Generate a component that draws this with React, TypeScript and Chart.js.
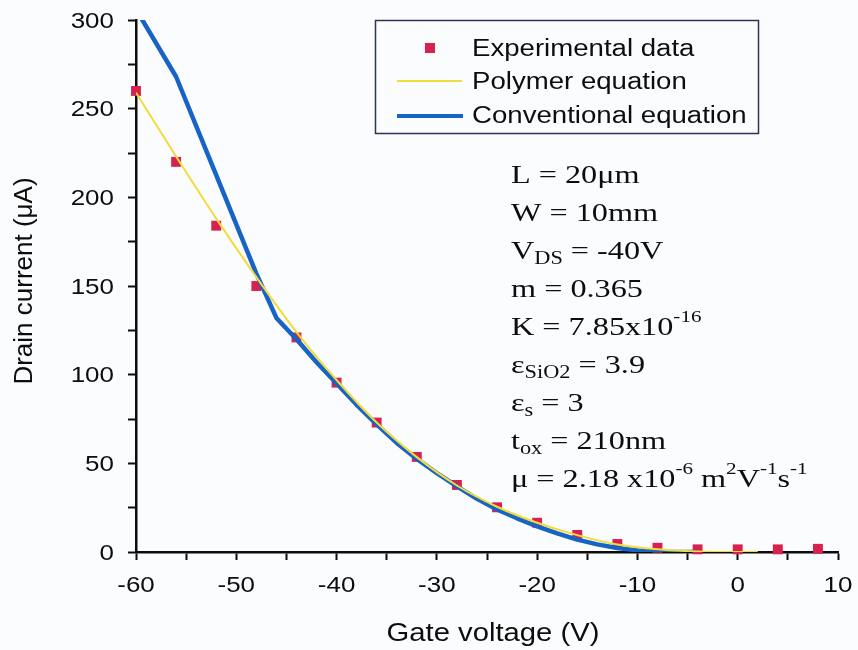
import React, { useEffect, useRef } from "react";
import { Chart, registerables } from "chart.js";

Chart.register(...registerables);

// ---------- data ----------
const expVoltage = [-60, -56, -52, -48, -44, -40, -36, -32, -28, -24, -20, -16, -12, -8, -4, 0, 4, 8];
const expCurrent = [260, 220, 184, 150, 121, 95.5, 73, 53.6, 37.8, 25.2, 16.5, 9.6, 4.5, 2.4, 1.5, 1.5, 1.5, 1.8];

const polyVoltage = [-60, -56, -52, -48, -44, -40, -36, -32, -28, -24, -20, -16, -12, -8, -4, 0, 2];
const polyCurrent = [259, 223, 188, 155, 124, 97, 73, 53.5, 37.5, 25.5, 16.5, 9.5, 4.2, 1.5, 0.3, 0, 0];

const convVoltage = [-60, -56, -52, -48, -46, -44, -42, -40, -38, -36, -34, -32, -30, -28, -26, -24, -22, -20, -18, -16, -14, -12, -10, -8, -6, -4];
const convCurrent = [306, 268, 212.5, 157, 132, 120, 107, 95, 83, 72, 61.5, 52.5, 44.5, 37, 30, 24, 19, 14.5, 10.5, 7, 4.3, 2.3, 0.9, 0.2, 0, 0];

const xTickLabels = [-60, -50, -40, -30, -20, -10, 0, 10];
const yTickLabels = [0, 50, 100, 150, 200, 250, 300];

const legendLabels = ["Experimental data", "Polymer equation", "Conventional equation"];
const xAxisTitle = "Gate voltage (V)";
const yAxisTitle = "Drain current (\u03BCA)";

type Seg = [string, "n" | "sub" | "sup"];
const paramLines: Seg[][] = [
  [["L = 20\u03BCm", "n"]],
  [["W = 10mm", "n"]],
  [["V", "n"], ["DS", "sub"], [" = -40V", "n"]],
  [["m = 0.365", "n"]],
  [["K = 7.85x10", "n"], ["-16", "sup"]],
  [["\u03B5", "n"], ["SiO2", "sub"], [" = 3.9", "n"]],
  [["\u03B5", "n"], ["s", "sub"], [" = 3", "n"]],
  [["t", "n"], ["ox", "sub"], [" = 210nm", "n"]],
  [["\u03BC = 2.18 x10", "n"], ["-6", "sup"], [" m", "n"], ["2", "sup"], ["V", "n"], ["-1", "sup"], ["s", "n"], ["-1", "sup"]],
];

// ---------- styles ----------
const BG = "#fbfcfe";
const INK = "#0d0d0d";
const RED = "#d9214f";
const YELLOW = "#f2dc3c";
const BLUE = "#1763c6";
const SANS = "'Liberation Sans', Arial, sans-serif";
const SERIF = "'Liberation Serif', 'Times New Roman', serif";

function scaledText(ctx: CanvasRenderingContext2D, text: string, x: number, y: number, sx: number, align: CanvasTextAlign) {
  ctx.save();
  ctx.translate(x, y);
  ctx.scale(sx, 1);
  ctx.textAlign = align;
  ctx.textBaseline = "alphabetic";
  ctx.fillText(text, 0, 0);
  ctx.restore();
}

const overlayPlugin = {
  id: "overlay",
  beforeDraw(chart: any) {
    const ctx = chart.ctx as CanvasRenderingContext2D;
    ctx.save();
    ctx.fillStyle = BG;
    ctx.fillRect(0, 0, chart.width, chart.height);
    ctx.restore();
  },
  afterDraw(chart: any) {
    const ctx = chart.ctx as CanvasRenderingContext2D;
    const xs = chart.scales.x;
    const ys = chart.scales.y;
    ctx.save();
    ctx.fillStyle = INK;

    // tick labels
    ctx.font = `22px ${SANS}`;
    yTickLabels.forEach((v) => {
      scaledText(ctx, String(v), 114, ys.getPixelForValue(v) + 7.5, 1.18, "right");
    });
    xTickLabels.forEach((v) => {
      scaledText(ctx, String(v), xs.getPixelForValue(v), 592, 1.18, "center");
    });

    // axis titles
    ctx.font = `25px ${SANS}`;
    scaledText(ctx, xAxisTitle, (xs.left + xs.right) / 2 + 6, 641, 1.17, "center");
    ctx.save();
    ctx.translate(32, 281);
    ctx.rotate(-Math.PI / 2);
    ctx.font = `26px ${SANS}`;
    ctx.textAlign = "center";
    ctx.textBaseline = "alphabetic";
    ctx.fillText(yAxisTitle, 0, 0);
    ctx.restore();

    // legend
    ctx.save();
    ctx.strokeStyle = "#2a3550";
    ctx.lineWidth = 1.5;
    ctx.strokeRect(375.5, 20.5, 383, 113);
    ctx.fillStyle = RED;
    ctx.fillRect(425, 43, 10, 10);
    ctx.strokeStyle = YELLOW;
    ctx.lineWidth = 2;
    ctx.beginPath();
    ctx.moveTo(397, 81);
    ctx.lineTo(462, 81);
    ctx.stroke();
    ctx.strokeStyle = BLUE;
    ctx.lineWidth = 4;
    ctx.beginPath();
    ctx.moveTo(397, 116);
    ctx.lineTo(463, 116);
    ctx.stroke();
    ctx.restore();
    ctx.font = `23px ${SANS}`;
    const legendBase = [56, 89, 123];
    legendLabels.forEach((t, i) => scaledText(ctx, t, 472, legendBase[i], 1.2, "left"));

    // parameter annotations
    const sx = 1.24;
    paramLines.forEach((segs, i) => {
      const base = 183 + 38 * i;
      ctx.save();
      ctx.translate(511, base);
      ctx.scale(sx, 1);
      ctx.textAlign = "left";
      ctx.textBaseline = "alphabetic";
      let cur = 0;
      segs.forEach(([txt, kind]) => {
        let dy = 0;
        if (kind === "n") ctx.font = `26px ${SERIF}`;
        else if (kind === "sub") {
          ctx.font = `18px ${SERIF}`;
          dy = 5;
        } else {
          ctx.font = `17px ${SERIF}`;
          dy = -13;
        }
        ctx.fillText(txt, cur, dy);
        cur += ctx.measureText(txt).width;
      });
      ctx.restore();
    });

    ctx.restore();
  },
};

export default function App() {
  const canvasRef = useRef<HTMLCanvasElement | null>(null);

  useEffect(() => {
    const canvas = canvasRef.current;
    if (!canvas) return;
    const chart = new Chart(canvas, {
      type: "scatter",
      data: {
        datasets: [
          {
            label: legendLabels[1],
            data: polyVoltage.map((x, i) => ({ x, y: polyCurrent[i] })),
            showLine: true,
            borderColor: YELLOW,
            borderWidth: 2,
            pointRadius: 0,
            cubicInterpolationMode: "monotone",
            order: 0,
          } as any,
          {
            label: legendLabels[2],
            data: convVoltage.map((x, i) => ({ x, y: convCurrent[i] })),
            showLine: true,
            borderColor: BLUE,
            borderWidth: 4.5,
            pointRadius: 0,
            tension: 0,
            borderJoinStyle: "round",
            order: 1,
          } as any,
          {
            label: legendLabels[0],
            data: expVoltage.map((x, i) => ({ x, y: expCurrent[i] })),
            showLine: false,
            pointStyle: "rect",
            pointRadius: 7,
            backgroundColor: RED,
            borderWidth: 0,
            clip: false,
            order: 2,
          } as any,
        ],
      },
      options: {
        responsive: false,
        animation: false,
        events: [],
        layout: { padding: { top: 20, right: 20, left: 0, bottom: 0 } },
        plugins: { legend: { display: false }, tooltip: { enabled: false } },
        scales: {
          x: {
            type: "linear",
            min: -60,
            max: 10,
            ticks: { display: false, stepSize: 5, autoSkip: false },
            grid: { display: true, drawOnChartArea: false, drawTicks: true, tickLength: 8, tickWidth: 2, tickColor: INK },
            border: { display: true, color: INK, width: 2.5 },
            afterFit: (s: any) => {
              s.height = 98;
            },
          },
          y: {
            type: "linear",
            min: 0,
            max: 300,
            ticks: { display: false, stepSize: 25, autoSkip: false },
            grid: { display: true, drawOnChartArea: false, drawTicks: true, tickLength: 8, tickWidth: 2, tickColor: INK },
            border: { display: true, color: INK, width: 2.5 },
            afterFit: (s: any) => {
              s.width = 136;
            },
          },
        },
      } as any,
      plugins: [overlayPlugin],
    });
    return () => chart.destroy();
  }, []);

  return (
    <div style={{ position: "fixed", left: 0, top: 0, width: 858, height: 650, background: BG }}>
      <canvas ref={canvasRef} width={858} height={650} style={{ display: "block" }} />
    </div>
  );
}
